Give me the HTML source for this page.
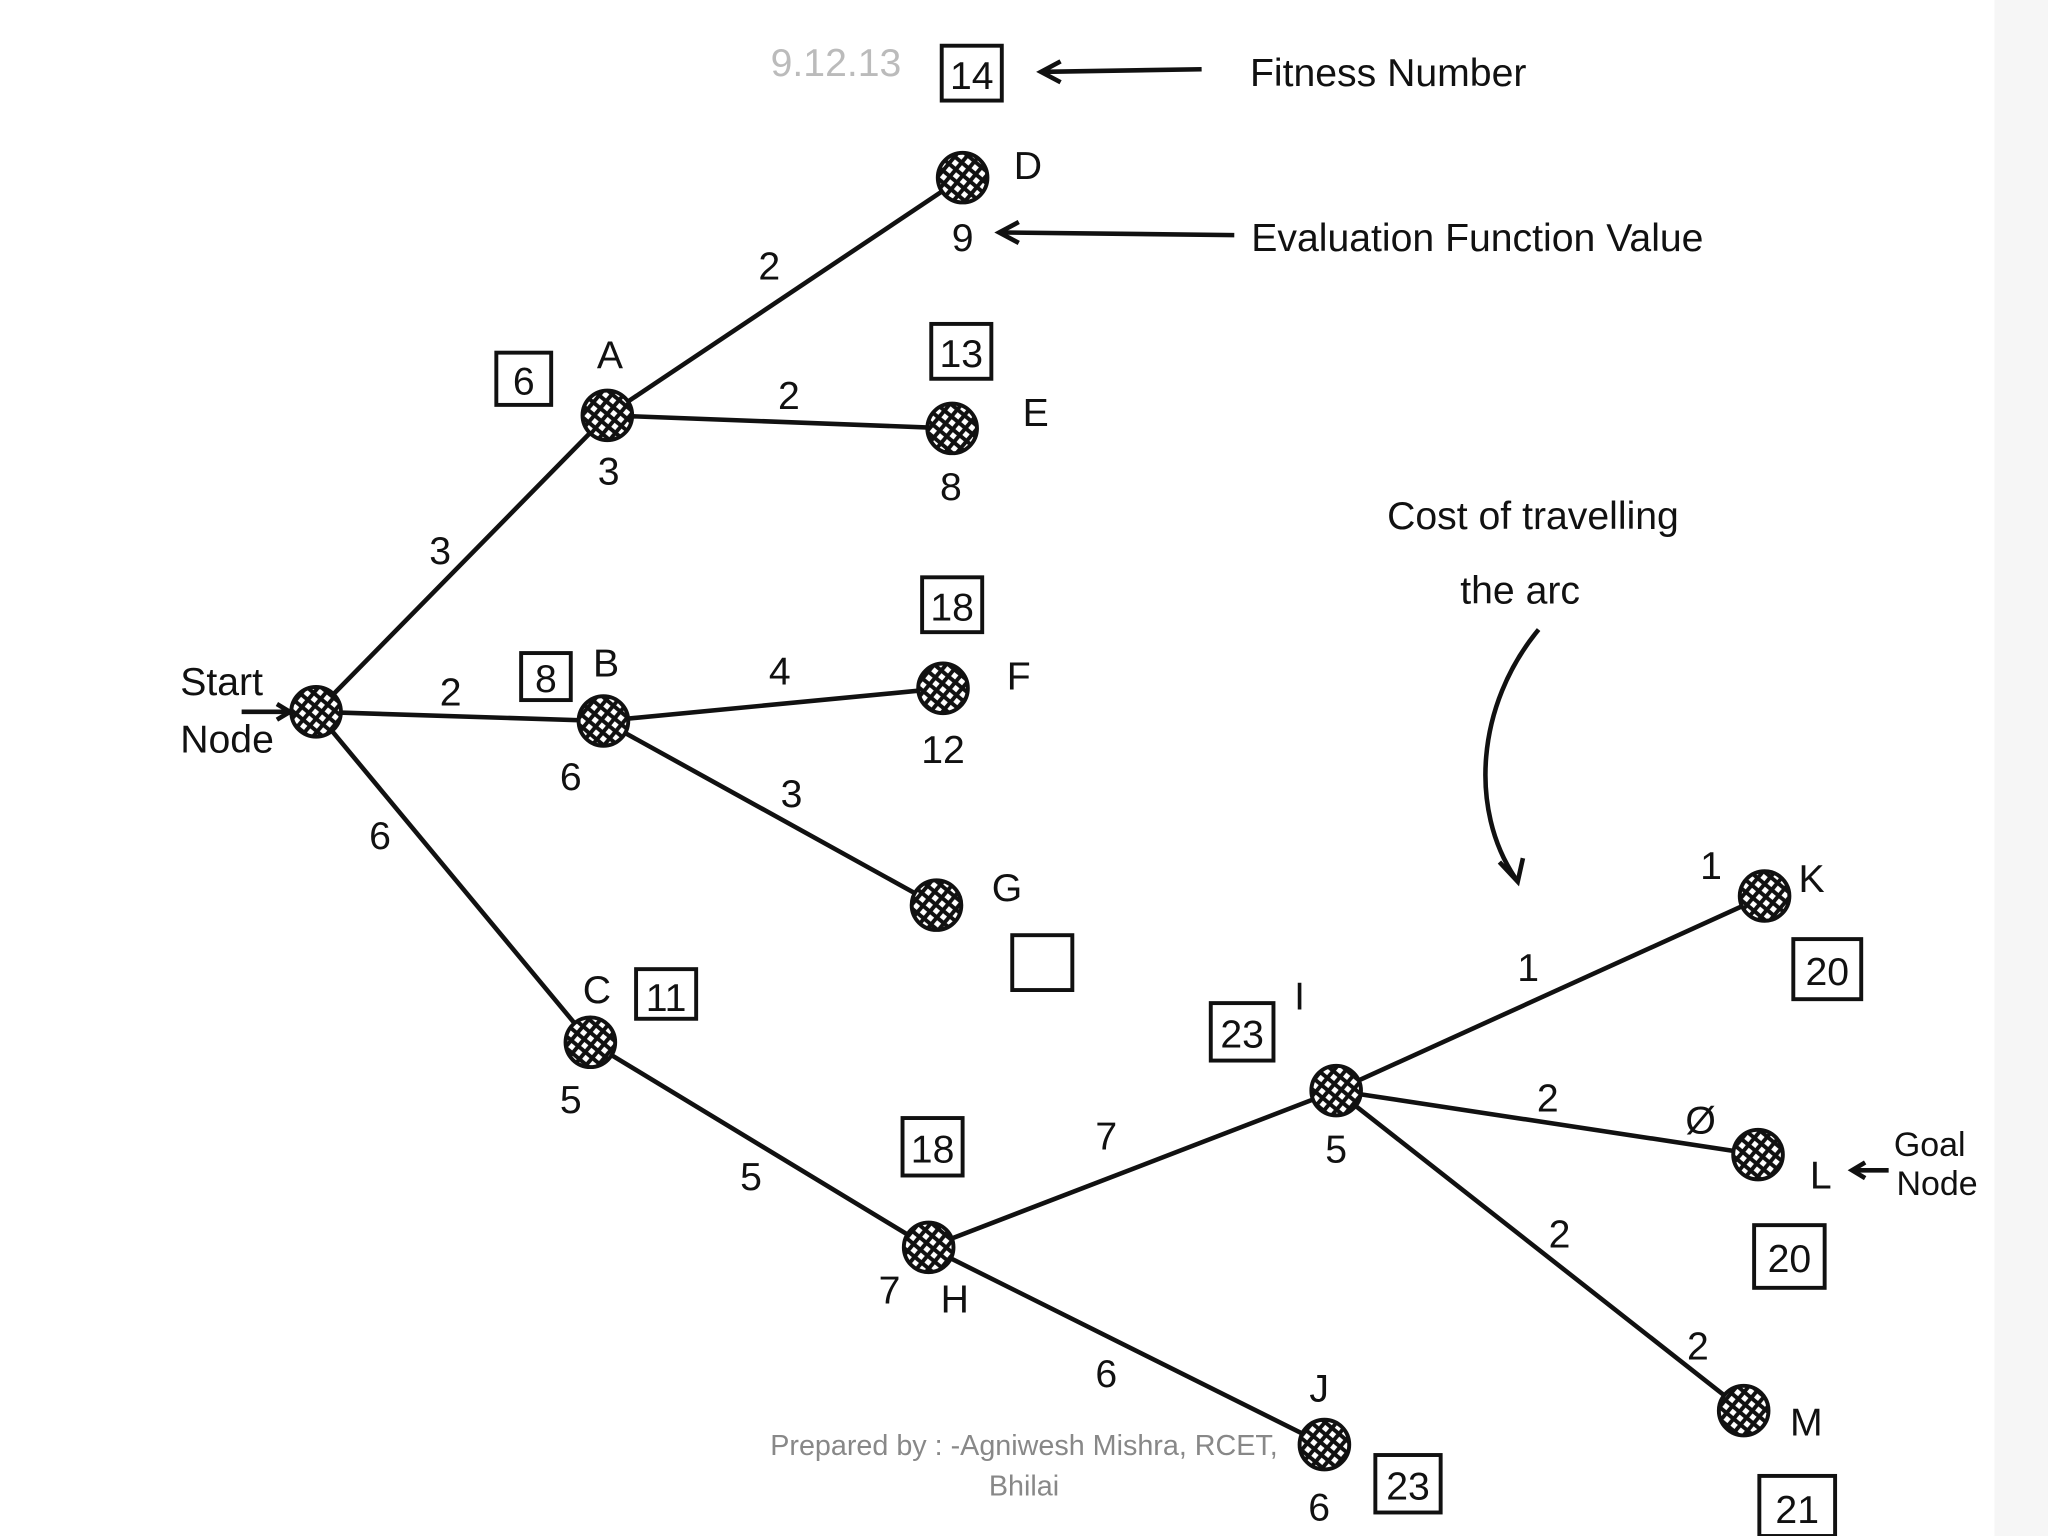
<!DOCTYPE html>
<html><head><meta charset="utf-8"><style>
html,body{margin:0;padding:0;background:#fff;}
svg{display:block;}
text{font-family:"Liberation Sans",sans-serif;fill:#111;}
</style></head><body>
<svg width="2048" height="1536" viewBox="0 0 1568 1176" xmlns="http://www.w3.org/2000/svg">
<defs>
<pattern id="h" width="7" height="7" patternUnits="userSpaceOnUse" patternTransform="rotate(40)">
<rect width="7" height="7" fill="#111"/><rect x="1.5" y="1.5" width="4" height="4" fill="#fff"/>
</pattern>
</defs>
<rect width="1568" height="1176" fill="#fff"/>
<rect x="1527" y="0" width="41" height="1176" fill="#f6f6f6"/>
<g stroke="#111" stroke-width="3.5" fill="none">
<line x1="242" y1="545" x2="465" y2="318"/>
<line x1="242" y1="545" x2="462" y2="552"/>
<line x1="242" y1="545" x2="452" y2="798"/>
<line x1="465" y1="318" x2="737" y2="136"/>
<line x1="465" y1="318" x2="729" y2="328"/>
<line x1="462" y1="552" x2="722" y2="527"/>
<line x1="462" y1="552" x2="717" y2="693"/>
<line x1="452" y1="798" x2="711" y2="955"/>
<line x1="711" y1="955" x2="1023" y2="835"/>
<line x1="711" y1="955" x2="1014" y2="1106"/>
<line x1="1023" y1="835" x2="1351" y2="686"/>
<line x1="1023" y1="835" x2="1346" y2="884"/>
<line x1="1023" y1="835" x2="1335" y2="1080"/>
<line x1="920" y1="53" x2="800" y2="55"/>
<polyline points="812,47 797,55 812,63"/>
<line x1="945" y1="180" x2="768" y2="178"/>
<polyline points="780,170 765,178 780,186"/>
<line x1="185" y1="545" x2="222" y2="545"/>
<polyline points="212,539 222,545 212,551"/>
<line x1="1446" y1="896" x2="1420" y2="896"/>
<polyline points="1428,890 1418,896 1428,902"/>
<path d="M1178,482 C1130,540 1125,620 1160,672"/>
<polyline points="1148,660 1162,675 1166,657"/>
</g>
<g fill="url(#h)" stroke="#111" stroke-width="3">
<circle cx="242" cy="545" r="19"/><circle cx="465" cy="318" r="19"/><circle cx="462" cy="552" r="19"/>
<circle cx="452" cy="798" r="19"/><circle cx="737" cy="136" r="19"/><circle cx="729" cy="328" r="19"/>
<circle cx="722" cy="527" r="19"/><circle cx="717" cy="693" r="19"/><circle cx="711" cy="955" r="19"/>
<circle cx="1023" cy="835" r="19"/><circle cx="1014" cy="1106" r="19"/><circle cx="1351" cy="686" r="19"/>
<circle cx="1346" cy="884" r="19"/><circle cx="1335" cy="1080" r="19"/>
</g>
<g fill="#fff" stroke="#111" stroke-width="3">
<rect x="721" y="35" width="46" height="42"/><rect x="380" y="270" width="42" height="40"/>
<rect x="713" y="248" width="46" height="42"/><rect x="706" y="442" width="46" height="42"/>
<rect x="399" y="500" width="38" height="36"/><rect x="487" y="742" width="46" height="38"/>
<rect x="775" y="716" width="46" height="42"/><rect x="927" y="768" width="48" height="44"/>
<rect x="691" y="856" width="46" height="44"/><rect x="1373" y="719" width="52" height="46"/>
<rect x="1343" y="938" width="54" height="48"/><rect x="1053" y="1114" width="50" height="44"/>
<rect x="1347" y="1130" width="58" height="46"/>
</g>
<g font-size="30" text-anchor="middle">
<text x="744" y="68">14</text><text x="401" y="302">6</text><text x="736" y="281">13</text>
<text x="729" y="475">18</text><text x="418" y="530">8</text><text x="510" y="774">11</text>
<text x="951" y="802">23</text><text x="714" y="890">18</text><text x="1399" y="754">20</text>
<text x="1370" y="974">20</text><text x="1078" y="1148">23</text><text x="1376" y="1166">21</text>
<text x="787" y="137">D</text><text x="737" y="192">9</text><text x="589" y="214">2</text>
<text x="467" y="282">A</text><text x="466" y="371">3</text><text x="604" y="313">2</text>
<text x="793" y="326">E</text><text x="728" y="383">8</text><text x="337" y="432">3</text>
<text x="464" y="518">B</text><text x="597" y="524">4</text><text x="780" y="528">F</text>
<text x="722" y="584">12</text><text x="345" y="540">2</text><text x="437" y="605">6</text>
<text x="606" y="618">3</text><text x="771" y="690">G</text><text x="291" y="650">6</text>
<text x="457" y="768">C</text><text x="437" y="852">5</text><text x="575" y="911">5</text>
<text x="847" y="880">7</text><text x="681" y="998">7</text><text x="731" y="1005">H</text>
<text x="995" y="773">I</text><text x="1023" y="890">5</text><text x="847" y="1062">6</text>
<text x="1010" y="1073">J</text><text x="1010" y="1164">6</text><text x="1310" y="673">1</text>
<text x="1387" y="683">K</text><text x="1170" y="751">1</text><text x="1185" y="851">2</text>
<text x="1302" y="868">Ø</text><text x="1394" y="910">L</text><text x="1194" y="955">2</text>
<text x="1300" y="1041">2</text><text x="1383" y="1099">M</text>
</g>
<g font-size="30">
<text x="957" y="66">Fitness Number</text>
<text x="958" y="192">Evaluation Function Value</text>
<text x="1062" y="405">Cost of travelling</text>
<text x="1118" y="462">the arc</text>
<text x="138" y="532">Start</text><text x="138" y="576">Node</text>
<text x="1450" y="885" font-size="26">Goal</text><text x="1452" y="915" font-size="26">Node</text>
</g>
<text x="590" y="58" font-size="30" fill="#bbb" style="fill:#bbb">9.12.13</text>
<g font-size="22" text-anchor="middle" style="fill:#888">
<text x="784" y="1114" style="fill:#888">Prepared by : -Agniwesh Mishra, RCET,</text>
<text x="784" y="1145" style="fill:#888">Bhilai</text>
</g>
</svg>
</body></html>
